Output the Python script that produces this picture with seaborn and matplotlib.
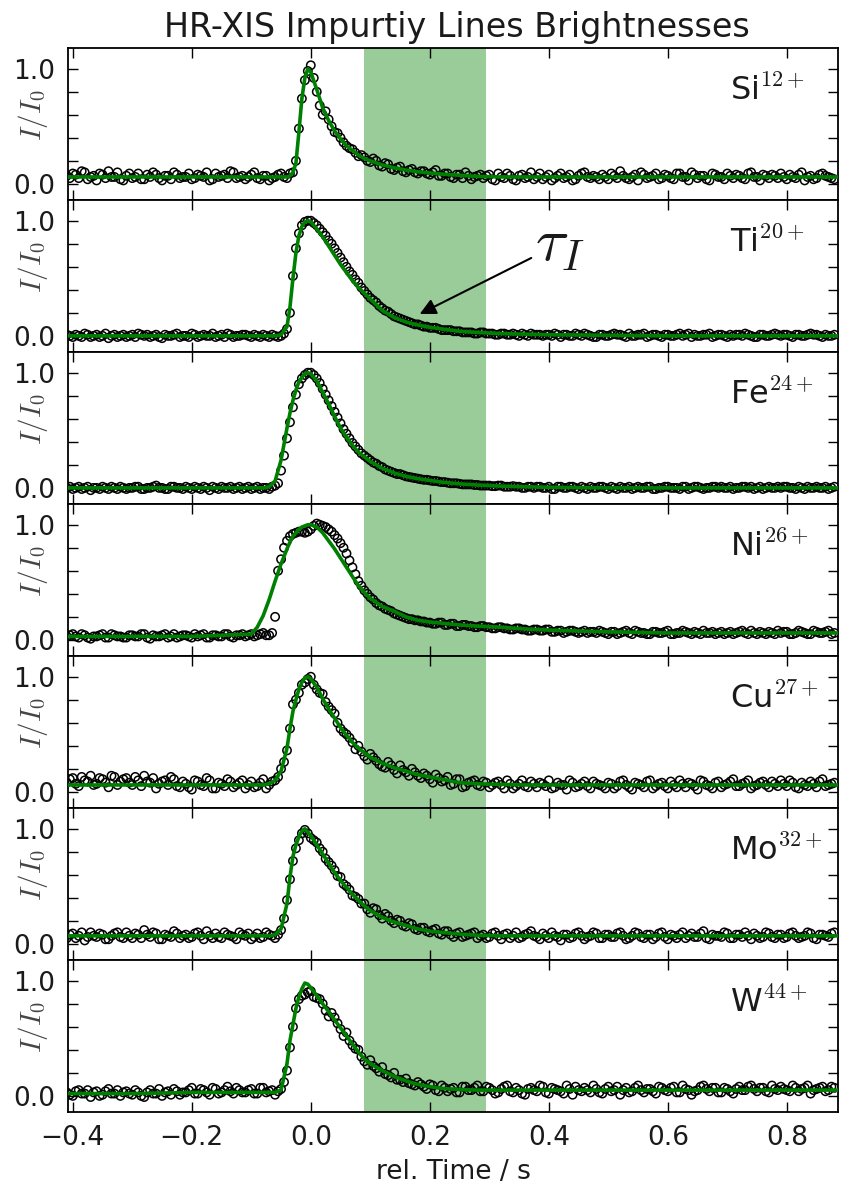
import numpy as np
import matplotlib
matplotlib.use("Agg")
import matplotlib.pyplot as plt
import seaborn as sns

# Sample times of the measured brightness (s, relative to the event):
# the integer-step frames and the frames half a step later
sample_time = np.linspace(-0.41, 0.88, 130)
sample_time_mid = np.linspace(-0.405, 0.875, 129)

# Time grid on which the fitted model curves are given
fit_time = [-0.41, -0.30, -0.20, -0.10, -0.09, -0.08, -0.07, -0.06, -0.05, -0.04,
            -0.035, -0.03, -0.025, -0.02, -0.015, -0.01, -0.005, 0.0,
            0.01, 0.02, 0.03, 0.04, 0.05, 0.06, 0.07, 0.08, 0.09, 0.10,
            0.12, 0.14, 0.16, 0.18, 0.20, 0.22,
            0.25, 0.28, 0.32, 0.36, 0.40,
            0.50, 0.60, 0.70, 0.80, 0.89]

# Normalised line brightness I/I0, one array per ion (frames on sample_time)
si_counts = [0.07, 0.09, 0.05, 0.10, 0.06, 0.03, 0.08, 0.11, 0.06, 0.04,
             0.07, 0.05, 0.09, 0.04, 0.06, 0.08, 0.03, 0.07, 0.10, 0.05,
             0.06, 0.04, 0.08, 0.06, 0.03, 0.09, 0.07, 0.05, 0.10, 0.06,
             0.04, 0.08, 0.05, 0.07, 0.03, 0.06, 0.09, 0.05, 0.10, 0.48,
             0.90, 1.03, 0.80, 0.60, 0.56, 0.45, 0.40, 0.33, 0.30, 0.24,
             0.23, 0.19, 0.20, 0.15, 0.17, 0.12, 0.15, 0.10, 0.13, 0.09,
             0.11, 0.08, 0.12, 0.07, 0.09, 0.05, 0.08, 0.10, 0.04, 0.07,
             0.05, 0.08, 0.03, 0.06, 0.09, 0.04, 0.07, 0.05, 0.10, 0.06,
             0.04, 0.08, 0.05, 0.09, 0.06, 0.03, 0.07, 0.10, 0.05, 0.06,
             0.08, 0.04, 0.07, 0.11, 0.05, 0.06, 0.03, 0.08, 0.06, 0.09,
             0.05, 0.07, 0.04, 0.09, 0.06, 0.10, 0.05, 0.07, 0.03, 0.08,
             0.06, 0.09, 0.05, 0.07, 0.04, 0.10, 0.06, 0.08, 0.05, 0.07,
             0.09, 0.04, 0.06, 0.08, 0.03, 0.07, 0.05, 0.09, 0.06, 0.04]

ti_counts = [0.01, -0.01, 0.00, 0.02, -0.01, 0.01, 0.00, -0.02, 0.01, 0.00,
             -0.01, 0.01, 0.02, 0.00, -0.01, 0.01, -0.02, 0.00, 0.01, -0.01,
             0.00, 0.02, -0.01, 0.01, 0.00, -0.01, 0.01, 0.02, -0.01, 0.00,
             0.01, -0.01, 0.00, 0.01, -0.01, 0.00, 0.00, 0.06, 0.52, 0.89,
             0.99, 1.00, 0.96, 0.90, 0.83, 0.76, 0.68, 0.60, 0.53, 0.46,
             0.39, 0.33, 0.29, 0.24, 0.21, 0.17, 0.15, 0.13, 0.11, 0.10,
             0.08, 0.07, 0.07, 0.05, 0.05, 0.04, 0.04, 0.03, 0.03, 0.02,
             0.03, 0.02, 0.01, 0.02, 0.01, 0.02, 0.00, 0.01, 0.02, 0.01,
             0.00, 0.01, 0.02, -0.01, 0.01, 0.00, 0.01, 0.02, 0.00, -0.01,
             0.01, 0.00, 0.02, 0.01, -0.01, 0.00, 0.01, 0.02, 0.00, 0.01,
             -0.01, 0.01, 0.00, 0.02, 0.01, -0.01, 0.00, 0.01, 0.02, 0.00,
             0.01, -0.01, 0.00, 0.01, 0.02, 0.00, -0.01, 0.01, 0.00, 0.02,
             0.00, 0.01, -0.01, 0.01, 0.00, 0.02, 0.01, -0.01, 0.00, 0.01]

fe_counts = [0.00, -0.01, 0.01, 0.00, -0.02, 0.00, 0.01, -0.01, 0.00, 0.01,
             -0.01, 0.00, 0.01, -0.01, 0.00, 0.02, 0.00, -0.01, 0.01, 0.00,
             0.01, -0.01, 0.00, 0.01, -0.02, 0.00, 0.01, 0.00, -0.01, 0.01,
             0.00, -0.01, 0.01, 0.00, -0.01, 0.02, 0.15, 0.43, 0.70, 0.90,
             0.98, 1.00, 0.95, 0.86, 0.76, 0.66, 0.56, 0.47, 0.39, 0.33,
             0.28, 0.24, 0.21, 0.18, 0.15, 0.13, 0.12, 0.10, 0.09, 0.08,
             0.07, 0.065, 0.06, 0.05, 0.045, 0.04, 0.035, 0.03, 0.03, 0.025,
             0.02, 0.02, 0.015, 0.02, 0.01, 0.015, 0.01, 0.00, 0.01, 0.01,
             0.00, 0.01, -0.01, 0.01, 0.00, 0.01, -0.01, 0.00, 0.01, 0.00,
             0.01, -0.01, 0.00, 0.01, 0.00, -0.01, 0.01, 0.00, 0.01, -0.01,
             0.00, 0.01, 0.00, -0.01, 0.01, 0.00, 0.01, -0.01, 0.00, 0.01,
             0.01, 0.00, -0.01, 0.00, 0.01, 0.01, 0.00, -0.01, 0.01, 0.00,
             0.00, 0.01, 0.00, 0.01, -0.01, 0.00, 0.01, 0.00, -0.01, 0.01]

ni_counts = [0.03, 0.05, 0.02, 0.04, 0.01, 0.03, 0.05, 0.02, 0.04, 0.03,
             0.02, 0.04, 0.03, 0.05, 0.01, 0.03, 0.04, 0.02, 0.05, 0.03,
             0.04, 0.02, 0.03, 0.05, 0.02, 0.04, 0.03, 0.05, 0.02, 0.04,
             0.03, 0.05, 0.04, 0.06, 0.04, 0.20, 0.70, 0.86, 0.92, 0.94,
             0.93, 0.96, 1.01, 0.99, 0.96, 0.91, 0.84, 0.75, 0.63, 0.51,
             0.43, 0.37, 0.32, 0.29, 0.26, 0.23, 0.21, 0.19, 0.18, 0.17,
             0.16, 0.15, 0.14, 0.15, 0.13, 0.14, 0.12, 0.13, 0.12, 0.11,
             0.12, 0.11, 0.10, 0.11, 0.10, 0.09, 0.10, 0.09, 0.08, 0.09,
             0.08, 0.09, 0.07, 0.08, 0.07, 0.08, 0.06, 0.08, 0.07, 0.06,
             0.07, 0.05, 0.07, 0.06, 0.08, 0.05, 0.07, 0.06, 0.05, 0.07,
             0.06, 0.08, 0.05, 0.06, 0.07, 0.05, 0.06, 0.08, 0.06, 0.05,
             0.07, 0.06, 0.05, 0.07, 0.06, 0.08, 0.05, 0.06, 0.07, 0.05,
             0.06, 0.07, 0.05, 0.08, 0.06, 0.05, 0.07, 0.06, 0.08, 0.06]

cu_counts = [0.08, 0.12, 0.05, 0.10, 0.14, 0.07, 0.11, 0.04, 0.13, 0.09,
             0.12, 0.06, 0.10, 0.14, 0.08, 0.03, 0.09, 0.06, 0.11, 0.04,
             0.07, 0.02, 0.09, 0.05, 0.10, 0.03, 0.07, 0.11, 0.04, 0.08,
             0.03, 0.09, 0.05, 0.11, 0.06, 0.10, 0.20, 0.36, 0.76, 0.86,
             0.95, 1.00, 0.89, 0.85, 0.74, 0.68, 0.55, 0.50, 0.43, 0.40,
             0.31, 0.33, 0.27, 0.22, 0.26, 0.19, 0.23, 0.17, 0.20, 0.14,
             0.16, 0.11, 0.15, 0.09, 0.13, 0.07, 0.11, 0.05, 0.09, 0.06,
             0.09, 0.04, 0.08, 0.06, 0.10, 0.03, 0.07, 0.05, 0.09, 0.04,
             0.07, 0.10, 0.04, 0.06, 0.02, 0.08, 0.05, 0.09, 0.03, 0.07,
             0.05, 0.08, 0.03, 0.09, 0.06, 0.02, 0.07, 0.04, 0.10, 0.05,
             0.08, 0.03, 0.06, 0.10, 0.04, 0.07, 0.02, 0.09, 0.05, 0.08,
             0.04, 0.07, 0.11, 0.05, 0.08, 0.03, 0.06, 0.09, 0.04, 0.07,
             0.10, 0.05, 0.08, 0.03, 0.06, 0.09, 0.04, 0.11, 0.06, 0.08]

mo_counts = [0.05, 0.09, 0.07, 0.03, 0.10, 0.06, 0.08, 0.04, 0.09, 0.06,
             0.10, 0.05, 0.08, 0.12, 0.06, 0.09, 0.04, 0.07, 0.11, 0.05,
             0.08, 0.06, 0.10, 0.04, 0.07, 0.09, 0.05, 0.08, 0.06, 0.10,
             0.07, 0.04, 0.09, 0.06, 0.08, 0.05, 0.12, 0.38, 0.72, 0.90,
             0.99, 0.92, 0.88, 0.80, 0.71, 0.64, 0.58, 0.50, 0.42, 0.39,
             0.35, 0.27, 0.30, 0.22, 0.24, 0.18, 0.20, 0.15, 0.17, 0.12,
             0.14, 0.10, 0.13, 0.08, 0.11, 0.06, 0.10, 0.07, 0.09, 0.05,
             0.08, 0.06, 0.10, 0.04, 0.09, 0.07, 0.05, 0.08, 0.11, 0.06,
             0.09, 0.05, 0.07, 0.03, 0.08, 0.06, 0.10, 0.04, 0.07, 0.09,
             0.05, 0.08, 0.06, 0.10, 0.04, 0.07, 0.09, 0.05, 0.08, 0.06,
             0.10, 0.04, 0.07, 0.08, 0.05, 0.09, 0.06, 0.11, 0.04, 0.07,
             0.06, 0.09, 0.05, 0.08, 0.10, 0.04, 0.07, 0.06, 0.09, 0.05,
             0.08, 0.06, 0.10, 0.05, 0.07, 0.09, 0.04, 0.08, 0.06, 0.10]

w_counts = [0.03, 0.00, 0.05, 0.02, -0.01, 0.04, 0.01, 0.06, 0.02, 0.00,
            0.04, 0.01, 0.03, -0.01, 0.05, 0.02, 0.00, 0.04, 0.06, 0.01,
            0.03, 0.07, 0.02, 0.05, 0.01, 0.06, 0.03, 0.08, 0.02, 0.05,
            0.03, 0.06, 0.02, 0.07, 0.04, 0.01, 0.06, 0.22, 0.60, 0.84,
            0.88, 0.91, 0.85, 0.80, 0.69, 0.68, 0.58, 0.55, 0.44, 0.40,
            0.30, 0.31, 0.24, 0.25, 0.18, 0.20, 0.14, 0.15, 0.10, 0.12,
            0.08, 0.10, 0.05, 0.09, 0.04, 0.07, 0.03, 0.08, 0.05, 0.09,
            0.04, 0.07, 0.02, 0.06, 0.09, 0.03, 0.05, 0.01, 0.07, 0.04,
            0.08, 0.02, 0.06, 0.04, 0.09, 0.01, 0.05, 0.07, 0.03, 0.06,
            0.02, 0.08, 0.05, 0.01, 0.07, 0.04, 0.09, 0.03, 0.06, 0.02,
            0.07, 0.04, 0.08, 0.03, 0.06, 0.01, 0.05, 0.09, 0.04, 0.07,
            0.03, 0.06, 0.02, 0.08, 0.05, 0.09, 0.04, 0.07, 0.03, 0.06,
            0.08, 0.05, 0.09, 0.04, 0.07, 0.02, 0.06, 0.08, 0.05, 0.07]

# Brightness on the half-step frames (sample_time_mid)
si_counts_mid = [0.05, 0.08, 0.11, 0.04, 0.07, 0.09, 0.05, 0.06, 0.10, 0.03,
                 0.09, 0.06, 0.04, 0.08, 0.10, 0.05, 0.07, 0.04, 0.08, 0.06,
                 0.09, 0.05, 0.07, 0.10, 0.04, 0.06, 0.08, 0.11, 0.05, 0.07,
                 0.06, 0.10, 0.04, 0.07, 0.05, 0.08, 0.06, 0.09, 0.20, 0.74,
                 0.98, 0.92, 0.68, 0.63, 0.50, 0.44, 0.36, 0.31, 0.27, 0.25,
                 0.20, 0.22, 0.16, 0.18, 0.13, 0.14, 0.11, 0.12, 0.10, 0.11,
                 0.09, 0.10, 0.07, 0.09, 0.06, 0.08, 0.05, 0.07, 0.06, 0.08,
                 0.07, 0.04, 0.09, 0.05, 0.07, 0.03, 0.08, 0.06, 0.04, 0.09,
                 0.06, 0.03, 0.07, 0.05, 0.08, 0.04, 0.09, 0.06, 0.07, 0.04,
                 0.06, 0.09, 0.05, 0.07, 0.04, 0.08, 0.10, 0.05, 0.07, 0.04,
                 0.08, 0.05, 0.09, 0.06, 0.03, 0.08, 0.07, 0.04, 0.09, 0.06,
                 0.04, 0.07, 0.08, 0.05, 0.09, 0.06, 0.03, 0.07, 0.08, 0.05,
                 0.06, 0.08, 0.05, 0.10, 0.06, 0.04, 0.08, 0.07, 0.05]

ti_counts_mid = [0.00, 0.01, -0.01, 0.01, 0.00, -0.01, 0.02, 0.00, -0.01, 0.01,
                 0.00, -0.01, 0.01, 0.01, 0.00, -0.01, 0.01, 0.00, 0.02, 0.00,
                 -0.01, 0.01, 0.00, 0.00, 0.02, 0.00, -0.01, 0.01, 0.00, 0.01,
                 0.00, 0.01, -0.01, 0.00, 0.01, -0.01, 0.02, 0.20, 0.76, 0.96,
                 1.00, 0.98, 0.93, 0.87, 0.80, 0.72, 0.64, 0.56, 0.49, 0.42,
                 0.36, 0.31, 0.26, 0.22, 0.19, 0.16, 0.14, 0.12, 0.10, 0.09,
                 0.08, 0.07, 0.06, 0.05, 0.05, 0.04, 0.03, 0.03, 0.02, 0.03,
                 0.02, 0.02, 0.01, 0.02, 0.01, 0.01, 0.02, 0.00, 0.01, 0.01,
                 0.01, 0.00, 0.01, 0.01, 0.00, 0.02, 0.00, 0.01, -0.01, 0.01,
                 0.00, 0.01, 0.01, 0.00, 0.02, 0.00, 0.01, -0.01, 0.01, 0.00,
                 0.01, 0.00, 0.01, 0.00, 0.02, 0.01, 0.00, 0.01, -0.01, 0.01,
                 0.00, 0.01, 0.01, 0.00, 0.01, -0.01, 0.01, 0.00, 0.01, 0.01,
                 0.01, 0.00, 0.01, 0.00, 0.01, 0.01, 0.00, 0.01, 0.00]

fe_counts_mid = [0.01, 0.00, -0.01, 0.01, 0.00, -0.01, 0.00, 0.01, -0.01, 0.00,
                 0.00, 0.01, -0.01, 0.00, 0.01, 0.00, -0.01, 0.01, 0.00, -0.01,
                 0.00, 0.01, -0.01, 0.00, 0.01, -0.01, 0.00, 0.01, 0.00, -0.01,
                 0.01, 0.00, -0.01, 0.00, 0.01, 0.04, 0.28, 0.57, 0.81, 0.95,
                 1.00, 0.98, 0.91, 0.81, 0.71, 0.61, 0.51, 0.43, 0.36, 0.30,
                 0.26, 0.22, 0.19, 0.16, 0.14, 0.12, 0.11, 0.095, 0.085, 0.075,
                 0.07, 0.06, 0.055, 0.05, 0.04, 0.04, 0.03, 0.03, 0.025, 0.02,
                 0.02, 0.015, 0.02, 0.01, 0.01, 0.01, 0.00, 0.01, 0.00, 0.01,
                 0.00, -0.01, 0.01, 0.00, 0.01, 0.00, 0.01, -0.01, 0.00, 0.01,
                 0.00, 0.01, -0.01, 0.00, 0.01, 0.00, 0.00, 0.01, -0.01, 0.00,
                 0.01, 0.00, 0.00, 0.01, -0.01, 0.01, 0.00, 0.00, 0.01, 0.00,
                 0.00, 0.01, 0.00, 0.01, 0.00, -0.01, 0.01, 0.00, 0.00, 0.01,
                 0.01, 0.00, -0.01, 0.00, 0.01, 0.00, 0.00, 0.01, 0.00]

ni_counts_mid = [0.04, 0.03, 0.05, 0.02, 0.03, 0.04, 0.02, 0.05, 0.03, 0.02,
                 0.04, 0.03, 0.05, 0.02, 0.04, 0.03, 0.05, 0.03, 0.02, 0.04,
                 0.03, 0.05, 0.04, 0.02, 0.04, 0.03, 0.05, 0.03, 0.04, 0.05,
                 0.04, 0.03, 0.05, 0.04, 0.06, 0.60, 0.80, 0.90, 0.93, 0.94,
                 0.94, 0.99, 1.00, 0.98, 0.94, 0.88, 0.80, 0.69, 0.57, 0.47,
                 0.40, 0.35, 0.30, 0.27, 0.25, 0.22, 0.20, 0.18, 0.17, 0.16,
                 0.15, 0.14, 0.15, 0.13, 0.14, 0.12, 0.13, 0.12, 0.11, 0.12,
                 0.11, 0.10, 0.11, 0.10, 0.09, 0.10, 0.09, 0.08, 0.09, 0.08,
                 0.09, 0.07, 0.08, 0.06, 0.08, 0.07, 0.07, 0.06, 0.07, 0.08,
                 0.06, 0.07, 0.05, 0.07, 0.06, 0.08, 0.06, 0.05, 0.07, 0.06,
                 0.07, 0.05, 0.06, 0.08, 0.06, 0.07, 0.05, 0.06, 0.07, 0.06,
                 0.05, 0.07, 0.06, 0.08, 0.05, 0.06, 0.07, 0.05, 0.06, 0.08,
                 0.07, 0.05, 0.06, 0.07, 0.05, 0.08, 0.06, 0.07, 0.05]

cu_counts_mid = [0.11, 0.07, 0.13, 0.09, 0.06, 0.12, 0.08, 0.14, 0.06, 0.11,
                 0.08, 0.13, 0.05, 0.09, 0.12, 0.07, 0.10, 0.13, 0.05, 0.09,
                 0.04, 0.10, 0.06, 0.12, 0.03, 0.08, 0.05, 0.09, 0.06, 0.10,
                 0.06, 0.04, 0.08, 0.03, 0.09, 0.13, 0.26, 0.55, 0.80, 0.93,
                 0.98, 0.93, 0.86, 0.78, 0.71, 0.60, 0.52, 0.47, 0.37, 0.35,
                 0.28, 0.30, 0.24, 0.21, 0.23, 0.16, 0.19, 0.14, 0.17, 0.12,
                 0.14, 0.08, 0.12, 0.10, 0.06, 0.11, 0.04, 0.08, 0.10, 0.05,
                 0.08, 0.06, 0.09, 0.03, 0.07, 0.05, 0.10, 0.04, 0.07, 0.08,
                 0.05, 0.03, 0.08, 0.06, 0.10, 0.04, 0.07, 0.05, 0.09, 0.06,
                 0.03, 0.07, 0.05, 0.10, 0.04, 0.08, 0.06, 0.09, 0.03, 0.07,
                 0.05, 0.09, 0.04, 0.07, 0.08, 0.05, 0.10, 0.06, 0.03, 0.09,
                 0.06, 0.09, 0.05, 0.07, 0.10, 0.05, 0.08, 0.06, 0.09, 0.05,
                 0.07, 0.10, 0.04, 0.08, 0.05, 0.07, 0.09, 0.05, 0.07]

mo_counts_mid = [0.08, 0.05, 0.10, 0.06, 0.07, 0.09, 0.04, 0.07, 0.10, 0.05,
                 0.07, 0.09, 0.05, 0.08, 0.10, 0.04, 0.08, 0.06, 0.09, 0.07,
                 0.05, 0.09, 0.07, 0.11, 0.05, 0.06, 0.10, 0.07, 0.04, 0.08,
                 0.09, 0.06, 0.05, 0.10, 0.07, 0.08, 0.22, 0.56, 0.83, 0.96,
                 0.96, 0.90, 0.83, 0.74, 0.68, 0.59, 0.52, 0.47, 0.41, 0.35,
                 0.30, 0.31, 0.25, 0.26, 0.20, 0.21, 0.16, 0.18, 0.13, 0.14,
                 0.11, 0.12, 0.09, 0.11, 0.08, 0.09, 0.06, 0.08, 0.10, 0.07,
                 0.05, 0.09, 0.07, 0.08, 0.05, 0.10, 0.06, 0.09, 0.07, 0.04,
                 0.07, 0.10, 0.06, 0.08, 0.05, 0.09, 0.07, 0.06, 0.10, 0.05,
                 0.08, 0.06, 0.09, 0.07, 0.05, 0.10, 0.06, 0.08, 0.04, 0.09,
                 0.06, 0.08, 0.05, 0.10, 0.07, 0.06, 0.09, 0.05, 0.08, 0.07,
                 0.10, 0.05, 0.08, 0.06, 0.07, 0.09, 0.05, 0.10, 0.06, 0.08,
                 0.05, 0.09, 0.07, 0.06, 0.10, 0.05, 0.08, 0.07, 0.09]

w_counts_mid = [0.01, 0.04, 0.02, 0.05, 0.03, 0.00, 0.04, 0.02, 0.05, 0.03,
                0.02, 0.05, 0.00, 0.03, 0.02, 0.06, 0.03, 0.01, 0.04, 0.03,
                0.05, 0.02, 0.06, 0.03, 0.07, 0.02, 0.05, 0.04, 0.07, 0.03,
                0.05, 0.02, 0.07, 0.03, 0.05, 0.04, 0.12, 0.42, 0.76, 0.87,
                0.90, 0.86, 0.84, 0.74, 0.72, 0.63, 0.52, 0.48, 0.41, 0.34,
                0.27, 0.26, 0.21, 0.19, 0.16, 0.14, 0.12, 0.11, 0.09, 0.10,
                0.06, 0.09, 0.04, 0.07, 0.06, 0.03, 0.08, 0.05, 0.07, 0.04,
                0.08, 0.05, 0.03, 0.08, 0.04, 0.07, 0.02, 0.06, 0.05, 0.09,
                0.03, 0.07, 0.05, 0.02, 0.06, 0.08, 0.04, 0.05, 0.09, 0.03,
                0.06, 0.04, 0.08, 0.05, 0.03, 0.07, 0.05, 0.06, 0.04, 0.08,
                0.05, 0.07, 0.03, 0.09, 0.05, 0.04, 0.08, 0.06, 0.07, 0.03,
                0.07, 0.04, 0.06, 0.05, 0.08, 0.06, 0.07, 0.04, 0.09, 0.05,
                0.06, 0.04, 0.07, 0.06, 0.09, 0.05, 0.07, 0.04, 0.08]

# Fitted brightness model on fit_time
si_fit = [0.06, 0.06, 0.06, 0.06, 0.06, 0.06, 0.06, 0.06, 0.06, 0.06,
          0.07, 0.10, 0.18, 0.45, 0.74, 0.92, 1.00, 0.97,
          0.82, 0.66, 0.55, 0.46, 0.39, 0.33, 0.29, 0.25, 0.22, 0.20,
          0.165, 0.14, 0.12, 0.105, 0.095, 0.085,
          0.075, 0.065, 0.06, 0.06, 0.06,
          0.06, 0.06, 0.06, 0.06, 0.06]
ti_fit = [0.0, 0.0, 0.0, 0.0, 0.0, 0.0, 0.0, 0.0, 0.01, 0.08,
          0.25, 0.50, 0.72, 0.87, 0.95, 0.99, 1.00, 0.99,
          0.93, 0.86, 0.78, 0.70, 0.62, 0.55, 0.48, 0.42, 0.37, 0.32,
          0.22, 0.16, 0.12, 0.095, 0.075, 0.06,
          0.04, 0.03, 0.02, 0.015, 0.01,
          0.005, 0.0, 0.0, 0.0, 0.0]
fe_fit = [0.0, 0.0, 0.0, 0.0, 0.0, 0.0, 0.01, 0.06, 0.24, 0.52,
          0.65, 0.76, 0.85, 0.92, 0.96, 0.99, 1.00, 0.99,
          0.93, 0.83, 0.73, 0.62, 0.52, 0.44, 0.37, 0.31, 0.27, 0.23,
          0.17, 0.13, 0.10, 0.08, 0.065, 0.05,
          0.035, 0.025, 0.015, 0.01, 0.005,
          0.0, 0.0, 0.0, 0.0, 0.0]
ni_fit = [0.03, 0.03, 0.03, 0.05, 0.11, 0.21, 0.35, 0.51, 0.66, 0.79,
          0.85, 0.90, 0.93, 0.96, 0.98, 0.99, 1.00, 1.00,
          0.98, 0.93, 0.86, 0.79, 0.71, 0.63, 0.55, 0.47, 0.41, 0.36,
          0.29, 0.25, 0.20, 0.17, 0.155, 0.145,
          0.13, 0.12, 0.11, 0.095, 0.085,
          0.07, 0.06, 0.06, 0.06, 0.06]
cu_fit = [0.06, 0.06, 0.06, 0.06, 0.06, 0.06, 0.07, 0.10, 0.18, 0.38,
          0.55, 0.70, 0.80, 0.89, 0.95, 0.99, 1.00, 0.98,
          0.91, 0.81, 0.72, 0.64, 0.56, 0.49, 0.43, 0.38, 0.34, 0.30,
          0.25, 0.21, 0.18, 0.15, 0.13, 0.11,
          0.08, 0.07, 0.065, 0.06, 0.06,
          0.06, 0.06, 0.06, 0.06, 0.06]
mo_fit = [0.07, 0.07, 0.07, 0.07, 0.07, 0.07, 0.07, 0.08, 0.13, 0.35,
          0.58, 0.76, 0.86, 0.93, 0.98, 1.00, 0.97, 0.94,
          0.86, 0.78, 0.70, 0.62, 0.55, 0.49, 0.43, 0.38, 0.33, 0.29,
          0.23, 0.19, 0.16, 0.13, 0.11, 0.10,
          0.085, 0.075, 0.07, 0.07, 0.07,
          0.07, 0.07, 0.07, 0.07, 0.07]
w_fit = [0.02, 0.02, 0.03, 0.03, 0.03, 0.03, 0.03, 0.03, 0.05, 0.28,
         0.48, 0.62, 0.76, 0.86, 0.93, 0.98, 0.97, 0.94,
         0.87, 0.80, 0.73, 0.66, 0.59, 0.52, 0.45, 0.38, 0.32, 0.28,
         0.22, 0.17, 0.13, 0.10, 0.08, 0.065,
         0.055, 0.05, 0.05, 0.05, 0.05,
         0.05, 0.05, 0.05, 0.05, 0.05]

ion_elements = ["Si", "Ti", "Fe", "Ni", "Cu", "Mo", "W"]
ion_charges = ["12+", "20+", "24+", "26+", "27+", "32+", "44+"]
ion_counts = [si_counts, ti_counts, fe_counts, ni_counts, cu_counts, mo_counts, w_counts]
ion_counts_mid = [si_counts_mid, ti_counts_mid, fe_counts_mid, ni_counts_mid,
                  cu_counts_mid, mo_counts_mid, w_counts_mid]
ion_fits = [si_fit, ti_fit, fe_fit, ni_fit, cu_fit, mo_fit, w_fit]

# Time window used for the impurity confinement time
tau_window = (0.09, 0.295)

sns.set_style("ticks")
plt.rcParams.update({
    "font.family": ["DejaVu Sans"],
    "mathtext.fontset": "cm",
    "axes.edgecolor": "black",
    "axes.linewidth": 1.3,
    "text.color": "#1a1a1a",
    "axes.labelcolor": "#1a1a1a",
    "xtick.color": "black",
    "ytick.color": "black",
    "xtick.labelcolor": "#1a1a1a",
    "ytick.labelcolor": "#1a1a1a",
})

fig, axes = plt.subplots(7, 1, figsize=(8.41, 11.85), dpi=100, sharex=True)
fig.subplots_adjust(left=0.0809, right=0.9964, top=0.9595, bottom=0.0616, hspace=0)

all_time = np.concatenate([sample_time, sample_time_mid])

for ax, elem, charge, counts, counts_mid, fit in zip(
        axes, ion_elements, ion_charges, ion_counts, ion_counts_mid, ion_fits):
    ax.axvspan(*tau_window, color="g", alpha=0.4, lw=0, zorder=0)
    values = np.concatenate([counts, counts_mid])
    sns.scatterplot(x=all_time, y=values, ax=ax, s=36, marker="o",
                    facecolors="none", edgecolor="black", linewidth=1.1, zorder=2)
    pts = ax.collections[-1]
    pts.set_facecolor("none")
    pts.set_edgecolor("black")
    sns.lineplot(x=fit_time, y=fit, ax=ax, color="g", linewidth=2.6, zorder=3)

    ax.set_xlim(-0.408, 0.886)
    ax.set_ylim(-0.14, 1.18)
    ax.set_yticks([0.0, 0.2, 0.4, 0.6, 0.8, 1.0])
    ax.set_yticklabels(["0.0", "", "", "", "", "1.0"])
    ax.set_xticks([-0.4, -0.2, 0.0, 0.2, 0.4, 0.6, 0.8])
    ax.tick_params(direction="in", top=True, right=True, length=7, width=1.0, labelsize=19)
    ax.tick_params(axis="y", pad=9)
    ax.tick_params(axis="x", pad=9)
    ax.set_ylabel(r"$I/I_0$", fontsize=21, color="#444444", va="center")
    ax.yaxis.set_label_coords(-0.045, 0.56)
    ax.text(0.86, 0.658, elem + r"$^{" + charge + r"}$", transform=ax.transAxes,
            fontsize=23, ha="left", va="baseline")

axes[1].annotate(r"$\tau_I$", xy=(0.183, 0.19), xytext=(0.376, 0.80),
                 fontsize=44, ha="left", va="center",
                 arrowprops=dict(arrowstyle="-|>", color="black", lw=1.5,
                                 mutation_scale=24, shrinkA=0, shrinkB=0))

axes[-1].set_xticklabels(["\u22120.4", "\u22120.2", "0.0", "0.2", "0.4", "0.6", "0.8"])
axes[-1].set_xlabel("rel. Time / s", fontsize=19, labelpad=6)

fig.text(0.543, 0.9688, "HR-XIS Impurtiy Lines Brightnesses", ha="center",
         va="baseline", fontsize=24)

fig.savefig("out.png", dpi=100)
